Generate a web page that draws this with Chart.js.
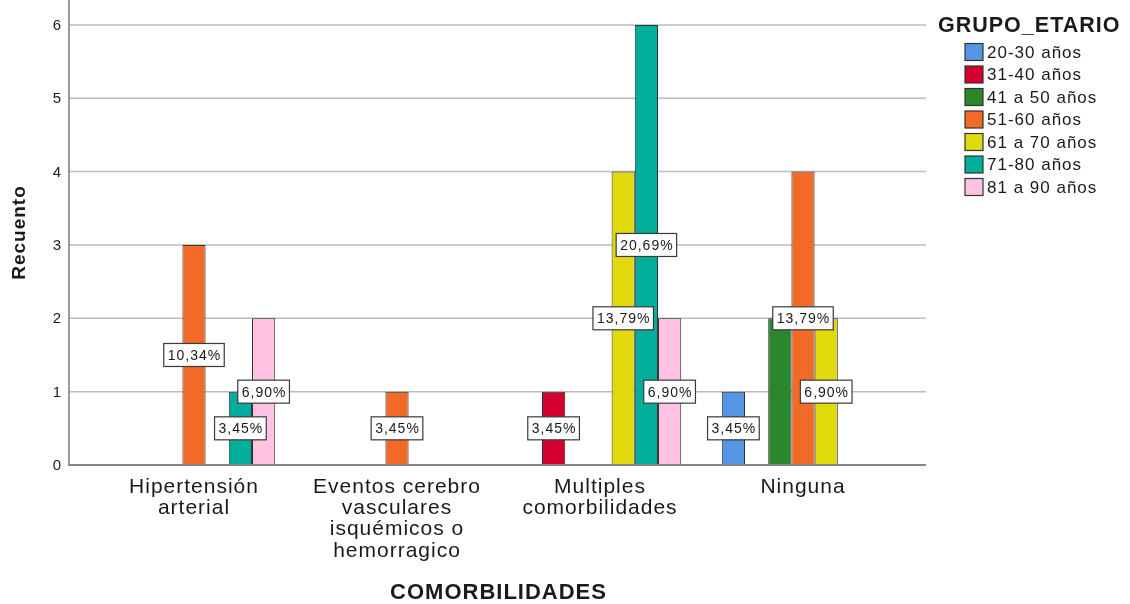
<!DOCTYPE html>
<html>
<head>
<meta charset="utf-8">
<script src="https://cdn.jsdelivr.net/npm/chart.js@4.4.0/dist/chart.umd.min.js"></script>
<style>
  html, body { margin: 0; padding: 0; background: #ffffff; }
  canvas { display: block; }
</style>
</head>
<body>
<canvas id="chart" width="1130" height="604"></canvas>
<script>
// Comorbidity categories (multi-line axis labels)
const categories = [
  ["Hipertensión", "arterial"],
  ["Eventos cerebro", "vasculares", "isquémicos o", "hemorragico"],
  ["Multiples", "comorbilidades"],
  ["Ninguna"]
];

// Age groups
const groups = ["20-30 años", "31-40 años", "41 a 50 años", "51-60 años", "61 a 70 años", "71-80 años", "81 a 90 años"];

// Counts per comorbidity category, one array per age group
const counts20_30 = [null, null, null, 1];
const counts31_40 = [null, null, 1, null];
const counts41_50 = [null, null, null, 2];
const counts51_60 = [3, 1, null, 4];
const counts61_70 = [null, null, 4, 2];
const counts71_80 = [1, null, 6, null];
const counts81_90 = [2, null, 2, null];

// Value axis ticks
const yTicks = [0, 1, 2, 3, 4, 5, 6];

const seriesCounts = [counts20_30, counts31_40, counts41_50, counts51_60, counts61_70, counts71_80, counts81_90];
const groupColors = ["#5695e4", "#d3002f", "#2b872b", "#f26a28", "#e1d90c", "#00ae9b", "#fec3e0"];

const FONT = '"Liberation Sans", Arial, Helvetica, sans-serif';
const TEXT = '#1a1a1a';

// Total number of cases, used for the percentage labels
const total = seriesCounts.flat().reduce((s, v) => s + (v || 0), 0);

const datasets = groups.map((g, i) => ({
  label: g,
  data: seriesCounts[i],
  backgroundColor: groupColors[i],
  borderColor: '#333333',
  borderWidth: 1,
  categoryPercentage: 0.8,
  barPercentage: 1.0
}));

// Slightly spaced lettering for all text on the canvas
const spacingPlugin = {
  id: 'spacing',
  beforeUpdate(chart) { chart.ctx.letterSpacing = '1px'; },
  beforeDraw(chart) { chart.ctx.letterSpacing = '1px'; }
};

// Frame extents relative to the plotting area
const FRAME_LEFT_PAD = 23.5;
const FRAME_RIGHT_PAD = 21.5;

// Grid lines, axis lines and value-axis tick labels
const framePlugin = {
  id: 'frame',
  beforeDatasetsDraw(chart) {
    const { ctx, chartArea, scales: { y } } = chart;
    const x0 = chartArea.left - FRAME_LEFT_PAD;
    const x1 = chartArea.right + FRAME_RIGHT_PAD;
    ctx.save();
    ctx.strokeStyle = '#bcbcbc';
    ctx.lineWidth = 1.5;
    y.ticks.forEach(t => {
      if (t.value === 0) return;
      const py = y.getPixelForValue(t.value);
      ctx.beginPath();
      ctx.moveTo(x0, py);
      ctx.lineTo(x1, py);
      ctx.stroke();
    });
    ctx.fillStyle = TEXT;
    ctx.font = '15px ' + FONT;
    ctx.letterSpacing = '0px';
    ctx.textAlign = 'right';
    ctx.textBaseline = 'middle';
    y.ticks.forEach(t => {
      const py = y.getPixelForValue(t.value);
      ctx.fillText(String(t.value), x0 - 8, py + 1);
    });
    ctx.restore();
  },
  afterDatasetsDraw(chart) {
    const { ctx, chartArea, scales: { y } } = chart;
    const x0 = chartArea.left - FRAME_LEFT_PAD;
    const x1 = chartArea.right + FRAME_RIGHT_PAD;
    const yb = y.getPixelForValue(0);
    ctx.save();
    ctx.strokeStyle = '#9a9a9a';
    ctx.lineWidth = 2;
    ctx.beginPath();
    ctx.moveTo(x0, chartArea.top);
    ctx.lineTo(x0, yb + 1);
    ctx.stroke();
    ctx.strokeStyle = '#858585';
    ctx.beginPath();
    ctx.moveTo(x0 - 1, yb);
    ctx.lineTo(x1, yb);
    ctx.stroke();
    ctx.restore();
  }
};

// Percentage labels in boxes at the middle of each bar; overlapping ones are dropped
const percentPlugin = {
  id: 'percent',
  afterDatasetsDraw(chart) {
    const { ctx, scales: { y } } = chart;
    ctx.save();
    ctx.font = '14px ' + FONT;
    ctx.letterSpacing = '1px';
    const placed = [];
    const boxH = 23;
    for (let d = chart.data.datasets.length - 1; d >= 0; d--) {
      const meta = chart.getDatasetMeta(d);
      chart.data.datasets[d].data.forEach((v, i) => {
        if (v == null) return;
        const bar = meta.data[i];
        const text = (v / total * 100).toFixed(2).replace('.', ',') + '%';
        const w = ctx.measureText(text).width + 7;
        const cx = bar.x;
        const cy = y.getPixelForValue(v / 2);
        const box = { l: cx - w / 2, r: cx + w / 2, t: cy - boxH / 2, b: cy + boxH / 2 };
        const hit = placed.some(p => !(box.r <= p.l || box.l >= p.r || box.b <= p.t || box.t >= p.b));
        if (hit) return;
        placed.push(box);
        ctx.fillStyle = '#ffffff';
        ctx.fillRect(box.l, box.t, w, boxH);
        ctx.strokeStyle = '#3a3a3a';
        ctx.lineWidth = 1.2;
        ctx.strokeRect(box.l, box.t, w, boxH);
        ctx.fillStyle = TEXT;
        ctx.textAlign = 'center';
        ctx.textBaseline = 'middle';
        ctx.fillText(text, cx + 0.5, cy + 1);
      });
    }
    ctx.restore();
  }
};

// Legend with title on the right-hand side
const legendPlugin = {
  id: 'sideLegend',
  afterDraw(chart) {
    const { ctx } = chart;
    ctx.save();
    ctx.letterSpacing = '1px';
    ctx.fillStyle = TEXT;
    ctx.font = 'bold 21.5px ' + FONT;
    ctx.textAlign = 'left';
    ctx.textBaseline = 'alphabetic';
    ctx.fillText('GRUPO_ETARIO', 938, 32);
    ctx.font = '17px ' + FONT;
    ctx.textBaseline = 'middle';
    chart.data.datasets.forEach((ds, i) => {
      const cy = 52 + i * 22.5;
      ctx.fillStyle = ds.backgroundColor;
      ctx.fillRect(965, cy - 8.5, 18, 17);
      ctx.strokeStyle = '#333333';
      ctx.lineWidth = 1.2;
      ctx.strokeRect(965, cy - 8.5, 18, 17);
      ctx.fillStyle = TEXT;
      ctx.fillText(ds.label, 987, cy + 1);
    });
    ctx.restore();
  }
};

new Chart(document.getElementById('chart'), {
  type: 'bar',
  data: { labels: categories, datasets },
  options: {
    responsive: false,
    devicePixelRatio: 1,
    animation: false,
    layout: { padding: { left: 0, top: 0, right: 225.5, bottom: 0 } },
    plugins: {
      legend: { display: false },
      tooltip: { enabled: false }
    },
    scales: {
      x: {
        offset: true,
        grid: { display: false, drawTicks: false },
        border: { display: false },
        ticks: {
          color: TEXT,
          font: { family: FONT, size: 21, lineHeight: 1.02 },
          padding: 11,
          maxRotation: 0,
          autoSkip: false
        },
        title: {
          display: true,
          text: 'COMORBILIDADES',
          color: TEXT,
          font: { family: FONT, size: 22, weight: 'bold', lineHeight: 1 },
          padding: { top: 0, bottom: 0 }
        },
        afterFit(scale) { scale.height = 139; }
      },
      y: {
        min: 0,
        max: 6.34,
        grid: { display: false, drawTicks: false },
        border: { display: false },
        ticks: { display: false, stepSize: 1 },
        afterBuildTicks(scale) {
          scale.ticks = yTicks.map(v => ({ value: v }));
        },
        title: {
          display: true,
          text: 'Recuento',
          color: TEXT,
          font: { family: FONT, size: 19, weight: 'bold', lineHeight: 1.2 },
          padding: { top: 8, bottom: 0 }
        },
        afterFit(scale) { scale.width = 92.5; }
      }
    }
  },
  plugins: [spacingPlugin, framePlugin, percentPlugin, legendPlugin]
});
</script>
</body>
</html>
